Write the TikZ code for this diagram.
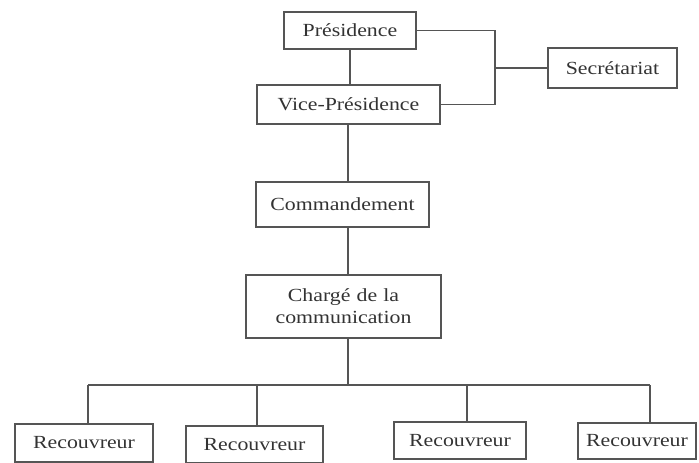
\documentclass[tikz,border=0pt]{standalone}
\usepackage{fontspec}
\setmainfont[FakeStretch=1.18]{Liberation Serif}
\definecolor{linegray}{HTML}{555555}
\definecolor{textgray}{HTML}{333333}
\begin{document}
\begin{tikzpicture}[x=1pt,y=-1pt,
  orgbox/.style={draw=linegray,line width=1.4pt,rectangle,inner sep=0pt,
    font=\fontsize{18.5}{22}\selectfont,text=textgray,align=center},
  link/.style={draw=linegray,line width=1.4pt}]
\useasboundingbox[fill=white] (0,0) rectangle (699,463);
\node[orgbox,minimum width=132pt,minimum height=37pt] (pres) at (350,30.5) {Présidence};
\node[orgbox,minimum width=183pt,minimum height=39pt] (vp) at (348.5,104.5) {Vice-Présidence};
\node[orgbox,minimum width=129pt,minimum height=40pt] (sec) at (612.5,68) {Secrétariat};
\node[orgbox,minimum width=173pt,minimum height=45pt] (cmd) at (342.5,204.5) {Commandement};
\node[orgbox,minimum width=195pt,minimum height=63pt,text width=190pt] (chg) at (343.5,306.5) {Chargé de la\\communication};
\node[orgbox,minimum width=138pt,minimum height=38pt] (r1) at (84,443) {Recouvreur};
\node[orgbox,minimum width=137pt,minimum height=37pt] (r2) at (254.5,444.5) {Recouvreur};
\node[orgbox,minimum width=132pt,minimum height=37pt] (r3) at (460,440.5) {Recouvreur};
\node[orgbox,minimum width=118pt,minimum height=36pt] (r4) at (637,441) {Recouvreur};
\coordinate (j) at (495,68);
\coordinate (t) at (348,0);
\coordinate (b1) at (88,385);
\coordinate (b2) at (257,385);
\coordinate (b3) at (467,385);
\coordinate (b4) at (650,385);
\coordinate (bc) at (348,385);
\draw[link] (pres.south) -- (pres.south |- vp.north);
\draw[link] (pres.east) -| (j) |- (vp.east);
\draw[link] (sec.west) -- (j);
\draw[link] (t |- vp.south) -- (t |- cmd.north);
\draw[link] (t |- cmd.south) -- (t |- chg.north);
\draw[link] (t |- chg.south) -- (bc);
\draw[link] (b1) -- (b4);
\draw[link] (b1) -- (b1 |- r1.north);
\draw[link] (b2) -- (b2 |- r2.north);
\draw[link] (b3) -- (b3 |- r3.north);
\draw[link] (b4) -- (b4 |- r4.north);
\end{tikzpicture}
\end{document}
